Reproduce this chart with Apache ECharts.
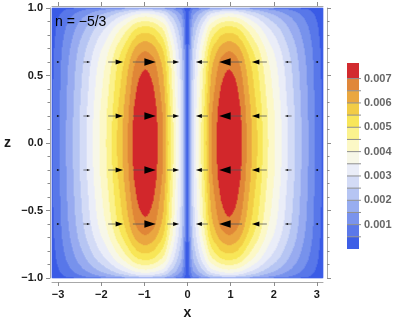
<!DOCTYPE html>
<html><head><meta charset="utf-8">
<script src="https://cdn.jsdelivr.net/npm/echarts@6/dist/echarts.min.js"></script>
<style>html,body{margin:0;padding:0;background:#fff}#c{width:399px;height:323px}</style>
</head><body><div id="c"></div>
<script>
// ---- data ----
const panelLabel = 'n = −5/3';
const levels = [0.0005,0.001,0.0015,0.002,0.0025,0.003,0.0035,0.004,0.0045,0.005,0.0055,0.006,0.0065,0.007];
const bandColors = ['#3d5ee6','#5b78e9','#7a93ec','#98adf0','#b6c5f3','#d3dbf6','#eaedf8','#f7f7e8','#fcf8c6','#fbf28e','#f8e65a','#f2cc46','#eaa740','#e0873a','#d22b2f'];
const barMax = 0.00764;
const barTicks = [0.001,0.002,0.003,0.004,0.005,0.006,0.007];
// field value along z = 0 versus |x|
const profileX    = [0, 0.03, 0.07, 0.14, 0.2, 0.26, 0.32, 0.38, 0.44, 0.49, 0.56, 0.68, 0.8, 0.97, 1.12, 1.27, 1.38, 1.50, 1.63, 1.75, 1.88, 2.04, 2.19, 2.34, 2.50, 2.65, 2.81, 2.96, 3.12, 3.1416];
const profileXVal = [0, 0.0008, 0.0018, 0.0030, 0.0035, 0.0040, 0.0045, 0.0050, 0.0055, 0.0060, 0.0065, 0.0070, 0.00743, 0.00764, 0.00748, 0.0070, 0.0065, 0.0060, 0.0055, 0.0050, 0.0045, 0.0040, 0.0035, 0.0030, 0.0025, 0.0020, 0.0015, 0.0010, 0.0005, 0.00045];
// relative factor versus |z|
const profileZ    = [0, 0.2, 0.4, 0.546, 0.68, 0.755, 0.818, 0.867, 0.904, 0.937, 0.961, 0.978, 0.99, 0.996, 1];
const profileZVal = [1, 0.988, 0.951, 0.916, 0.851, 0.785, 0.72, 0.655, 0.589, 0.524, 0.458, 0.393, 0.327, 0.25, 0];
// arrows
const arrowX = [-3, -7/3, -5/3, -1, -1/3, 1/3, 1, 5/3, 7/3, 3];
const arrowZ = [-0.6, -0.2, 0.2, 0.6];
const arrowU = [0.13, 0.30, 0.65, 1.0, 0.52, -0.52, -1.0, -0.65, -0.30, -0.13];
const xTicks = [-3,-2,-1,0,1,2,3];
const zTicks = [-1,-0.5,0,0.5,1];

// ---- helpers ----
function pchip(xs, ys) {
  const n = xs.length, h = [], d = [], m = new Array(n);
  for (let i = 0; i < n - 1; i++) { h[i] = xs[i+1]-xs[i]; d[i] = (ys[i+1]-ys[i])/h[i]; }
  m[0] = d[0]; m[n-1] = d[n-2];
  for (let i = 1; i < n - 1; i++) {
    if (d[i-1]*d[i] <= 0) m[i] = 0;
    else { const w1 = 2*h[i]+h[i-1], w2 = h[i]+2*h[i-1]; m[i] = (w1+w2)/(w1/d[i-1]+w2/d[i]); }
  }
  return function(x) {
    if (x <= xs[0]) return ys[0];
    if (x >= xs[n-1]) return ys[n-1];
    let i = 0; while (x > xs[i+1]) i++;
    const t = (x-xs[i])/h[i], t2 = t*t, t3 = t2*t;
    return (2*t3-3*t2+1)*ys[i] + (t3-2*t2+t)*h[i]*m[i] + (-2*t3+3*t2)*ys[i+1] + (t3-t2)*h[i]*m[i+1];
  };
}
const G = pchip(profileX, profileXVal);
const H = pchip(profileZ, profileZVal);

const NX = 271, NZ = 270;
const xCats = [], zCats = [], heat = [];
for (let i = 0; i < NX; i++) xCats.push(i);
for (let j = 0; j < NZ; j++) zCats.push(j);
for (let i = 0; i < NX; i++) {
  const x = -Math.PI + (i + 0.5) * 2 * Math.PI / NX;
  const gx = G(Math.abs(x));
  for (let j = 0; j < NZ; j++) {
    const z = -1 + (j + 0.5) * 2 / NZ;
    heat.push([i, j, gx * H(Math.abs(z))]);
  }
}
const pieces = bandColors.map((c, k) => {
  const p = { color: c };
  if (k > 0) p.gte = levels[k-1];
  if (k < levels.length) p.lt = levels[k];
  return p;
});
const bands = bandColors.map((c, k) => [k === 0 ? 0 : levels[k-1], k < levels.length ? levels[k] : barMax]);
const arrows = [];
arrowZ.forEach(z => arrowX.forEach((x, i) => arrows.push([x, z, arrowU[i]])));
const arrowScale = 0.533;
const minorXT = [];
for (let k = -15; k <= 15; k++) { if (k % 5 !== 0) minorXT.push(k/5); }

const fmtMinus = v => (v < 0 ? '−' : '') + Math.abs(v);
const FONT = '"Liberation Sans", Arial, sans-serif';
const gridBox = { left: 52, top: 8, width: 271, height: 270, outerBoundsMode: 'none', containLabel: false };
const axisLineStyle = { color: '#a8a8a8', width: 1 };
const tickStyle = { color: '#8c8c8c', width: 1 };

const chart = echarts.init(document.getElementById('c'), null, { renderer: 'canvas' });
chart.setOption({
  animation: false,
  backgroundColor: '#fff',
  grid: [
    Object.assign({}, gridBox),
    Object.assign({}, gridBox),
    { left: 347, top: 63, width: 12, height: 186, outerBoundsMode: 'none', containLabel: false }
  ],
  xAxis: [
    { type: 'category', gridIndex: 0, data: xCats, show: false },
    { type: 'value', gridIndex: 1, min: -Math.PI, max: Math.PI, position: 'bottom', offset: 4,
      axisLine: { show: true, onZero: false, lineStyle: axisLineStyle },
      axisTick: { show: true, customValues: xTicks, length: 4, lineStyle: tickStyle },
      axisLabel: { customValues: xTicks, formatter: fmtMinus, color: '#1a1a1a', fontWeight: 'bold', fontSize: 11, fontFamily: FONT, margin: 7 },
      splitLine: { show: false },
      name: 'x', nameLocation: 'middle', nameGap: 24,
      nameTextStyle: { color: '#1a1a1a', fontWeight: 'bold', fontSize: 14, fontFamily: FONT } },
    { type: 'value', gridIndex: 1, min: -Math.PI, max: Math.PI, position: 'bottom', offset: 4,
      axisLine: { show: false }, axisTick: { show: true, customValues: minorXT, length: 2.5, lineStyle: tickStyle },
      axisLabel: { show: false }, splitLine: { show: false } },
    { type: 'value', gridIndex: 1, min: -Math.PI, max: Math.PI, position: 'top', offset: 2,
      axisLine: { show: true, onZero: false, lineStyle: axisLineStyle },
      axisTick: { show: true, customValues: xTicks, length: 4, lineStyle: tickStyle },
      axisLabel: { show: false }, splitLine: { show: false } },
    { type: 'value', gridIndex: 1, min: -Math.PI, max: Math.PI, position: 'top', offset: 2,
      axisLine: { show: false }, axisTick: { show: true, customValues: minorXT, length: 2.5, lineStyle: tickStyle },
      axisLabel: { show: false }, splitLine: { show: false } },
    { type: 'value', gridIndex: 2, min: 0, max: 1, show: false }
  ],
  yAxis: [
    { type: 'category', gridIndex: 0, data: zCats, show: false },
    { type: 'value', gridIndex: 1, min: -1, max: 1, interval: 0.5, position: 'left', offset: 2,
      axisLine: { show: true, onZero: false, lineStyle: axisLineStyle },
      axisTick: { show: true, length: 4, lineStyle: tickStyle },
      minorTick: { show: true, splitNumber: 5, length: 2.5, lineStyle: tickStyle },
      axisLabel: { formatter: v => (v < 0 ? '−' : '') + Math.abs(v).toFixed(1), color: '#1a1a1a', fontWeight: 'bold', fontSize: 11, fontFamily: FONT, margin: 7 },
      splitLine: { show: false },
      name: 'z', nameLocation: 'middle', nameRotate: 0, nameGap: 39,
      nameTextStyle: { color: '#1a1a1a', fontWeight: 'bold', fontSize: 14, fontFamily: FONT } },
    { type: 'value', gridIndex: 1, min: -1, max: 1, interval: 0.5, position: 'right', offset: 4,
      axisLine: { show: true, onZero: false, lineStyle: axisLineStyle },
      axisTick: { show: true, length: 4, lineStyle: tickStyle },
      minorTick: { show: true, splitNumber: 5, length: 2.5, lineStyle: tickStyle },
      axisLabel: { show: false }, splitLine: { show: false } },
    { type: 'value', gridIndex: 2, min: 0, max: barMax, position: 'right',
      axisLine: { show: false },
      axisTick: { show: false },
      axisLabel: { customValues: barTicks, formatter: v => v.toFixed(3), color: '#666', fontWeight: 'bold', fontSize: 11, fontFamily: FONT, margin: 5 },
      splitLine: { show: false } }
  ],
  visualMap: {
    type: 'piecewise', show: false, seriesIndex: 0, dimension: 2, pieces: pieces
  },
  series: [
    { type: 'heatmap', xAxisIndex: 0, yAxisIndex: 0, data: heat, progressive: 0,
      itemStyle: { borderWidth: 0 }, emphasis: { disabled: true }, silent: true },
    { type: 'custom', xAxisIndex: 1, yAxisIndex: 1, data: arrows, silent: true, z: 5,
      renderItem: function (params, api) {
        const x = api.value(0), z = api.value(1), u = api.value(2);
        const L = u * arrowScale;
        const p0 = api.coord([x - L / 2, z]), p1 = api.coord([x + L / 2, z]);
        const len = Math.abs(p1[0] - p0[0]), dir = Math.sign(p1[0] - p0[0]) || 1;
        const hl = Math.max(2.5, len * 0.5), hw = Math.max(1.1, len * 0.16);
        const bx = p1[0] - dir * hl;
        return { type: 'group', children: [
          { type: 'line', shape: { x1: p0[0], y1: p0[1], x2: bx, y2: p1[1] }, style: { stroke: '#555', lineWidth: 0.8 } },
          { type: 'polygon', shape: { points: [[p1[0], p1[1]], [bx, p1[1] - hw], [bx, p1[1] + hw]] }, style: { fill: '#000' } }
        ] };
      } },
    { type: 'custom', xAxisIndex: 5, yAxisIndex: 3, data: bands, silent: true,
      renderItem: function (params, api) {
        const a = api.coord([0, api.value(0)]), b = api.coord([1, api.value(1)]);
        const k = params.dataIndex;
        const children = [
          { type: 'rect', shape: { x: a[0], y: b[1], width: b[0] - a[0], height: a[1] - b[1] }, style: { fill: bandColors[k] } }
        ];
        if (k > 0) children.push({ type: 'line', shape: { x1: a[0], y1: a[1], x2: b[0] + 2, y2: a[1] }, style: { stroke: '#8f8f8f', lineWidth: 1 }, z2: 10 });
        return { type: 'group', children: children };
      } }
  ],
  graphic: [
    { type: 'text', left: 55, top: 15, z: 100,
      style: { text: panelLabel, font: '14px ' + FONT, fill: '#000' } }
  ]
});
</script>
</body></html>
